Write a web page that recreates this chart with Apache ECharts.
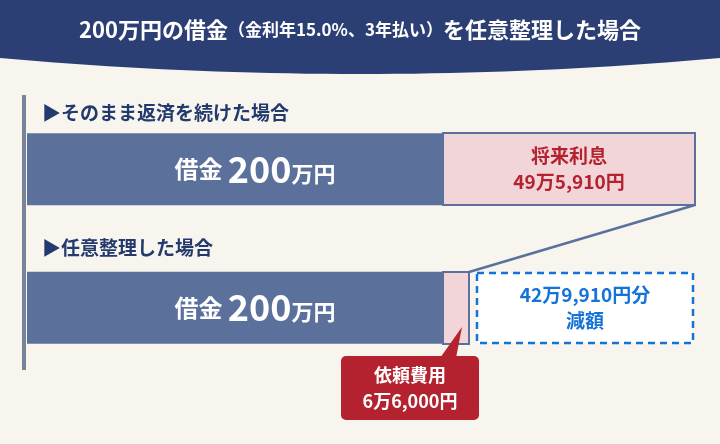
<!DOCTYPE html>
<html><head><meta charset="utf-8">
<script src="https://cdn.jsdelivr.net/npm/echarts@6/dist/echarts.min.js"></script>
<style>html,body{margin:0;background:#f8f5ee}#c{width:720px;height:444px}</style>
</head><body><div id="c"></div>
<script>
var rows = ['そのまま返済を続けた場合', '任意整理した場合'];
var principal = [200, 200];          // 万円
var principalLabel = ['200', '200'];
var interestText = ['将来利息', '49万5,910円'];
var feeText = ['依頼費用', '6万6,000円'];
var savedText = ['42万9,910円分', '減額'];

var F = '"Noto Sans CJK JP", sans-serif';
var navy = '#233a6e', bar = '#5b719c', pink = '#f2d5d8', red = '#b5222f', blue = '#1473d6';

// banner outline with curved bottom
var banner = [[0, 0], [720, 0], [720, 58]];
for (var i = 1; i < 40; i++) {
    var t = i / 40;
    banner.push([720 * (1 - t), 58 + 2 * t * (1 - t) * 32]);
}
banner.push([0, 58]);

function wave(y0) {
    return {type: 'polyline', shape: {smooth: 0.5, points: [[88, y0], [92, y0 + 9], [85, y0 + 22], [92, y0 + 38], [85, y0 + 54], [91, y0 + 64], [88, y0 + 72]]},
        style: {fill: null, stroke: '#f8f5ee', lineWidth: 4}};
}

var chart = echarts.init(document.getElementById('c'));
chart.setOption({
    backgroundColor: '#f8f5ee',
    grid: {left: 27, width: 416, top: 100, height: 277},
    xAxis: {type: 'value', min: 0, max: 200, show: false},
    yAxis: {type: 'category', data: rows, inverse: true, show: false},
    series: [{
        type: 'bar', data: principal, barWidth: 72, itemStyle: {color: bar},
        silent: true, animation: false,
        label: {
            show: true, position: 'inside', offset: [20, 0], fontFamily: F,
            formatter: function (p) { return '{a|借金}  {b|' + principalLabel[p.dataIndex] + '}{c|万円}'; },
            rich: {
                a: {color: '#fff', fontSize: 24, fontWeight: 'bold', fontFamily: F},
                b: {color: '#fff', fontSize: 36, fontWeight: 'bold', fontFamily: F},
                c: {color: '#fff', fontSize: 22, fontWeight: 'bold', fontFamily: F, padding: [8, 0, 0, 0]}
            }
        }
    }],
    graphic: [
        {type: 'polygon', shape: {points: banner}, style: {fill: '#2c3f74'}},
        {type: 'text', x: 360, y: 30, style: {
            text: '{a|200万円の借金}{b|（金利年15.0%、3年払い）}{a|を任意整理した場合}',
            align: 'center', verticalAlign: 'middle', fill: '#fff', font: 'bold 22px ' + F,
            rich: {a: {fontSize: 22, fontWeight: 'bold', fill: '#fff', fontFamily: F},
                   b: {fontSize: 17, fontWeight: 'bold', fill: '#fff', fontFamily: F}}}},
        {type: 'rect', shape: {x: 22, y: 95, width: 4, height: 275}, style: {fill: '#7a8499'}},
        {type: 'text', x: 42, y: 113, style: {text: '▶' + rows[0], fill: navy, font: 'bold 19px ' + F, verticalAlign: 'middle'}},
        {type: 'text', x: 42, y: 248, style: {text: '▶' + rows[1], fill: navy, font: 'bold 19px ' + F, verticalAlign: 'middle'}},
        wave(133),
        wave(272),
        // interest box
        {type: 'rect', shape: {x: 443, y: 133, width: 252, height: 72}, style: {fill: pink, stroke: bar, lineWidth: 2}},
        {type: 'text', x: 569, y: 169, style: {text: interestText.join('\n'), align: 'center', verticalAlign: 'middle',
            fill: red, font: 'bold 19px ' + F, lineHeight: 26}},
        // connector
        {type: 'line', shape: {x1: 695, y1: 205, x2: 469, y2: 272}, style: {stroke: bar, lineWidth: 2.5}},
        // fee box
        {type: 'rect', shape: {x: 443, y: 272, width: 26, height: 72}, style: {fill: pink, stroke: bar, lineWidth: 2}},
        // saved box
        {type: 'rect', shape: {x: 477, y: 273, width: 216, height: 70}, style: {fill: '#fff', stroke: blue, lineWidth: 2.5, lineDash: [7, 5]}},
        {type: 'text', x: 585, y: 308, style: {text: savedText.join('\n'), align: 'center', verticalAlign: 'middle',
            fill: blue, font: 'bold 19px ' + F, lineHeight: 26}},
        // callout
        {type: 'polygon', shape: {points: [[440, 358], [462, 327], [456, 358]]}, style: {fill: red}},
        {type: 'rect', shape: {x: 341, y: 356, width: 138, height: 64, r: 5}, style: {fill: red}},
        {type: 'text', x: 410, y: 388, style: {text: feeText.join('\n'), align: 'center', verticalAlign: 'middle',
            fill: '#fff', font: 'bold 18px ' + F, lineHeight: 26}}
    ]
});
</script></body></html>
